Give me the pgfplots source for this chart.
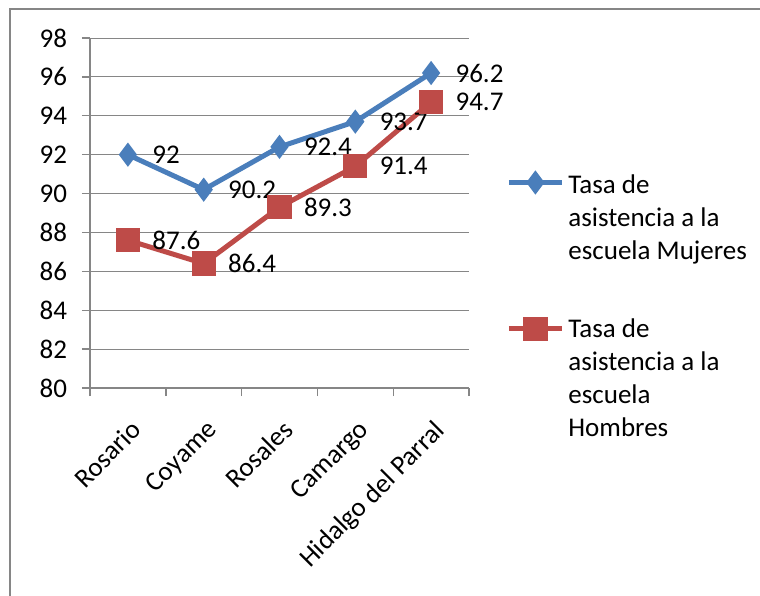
\documentclass[border=0pt]{standalone}
\usepackage{fontspec}
\setmainfont{Carlito}
\usepackage{pgfplots}
\pgfplotsset{compat=1.18}
\definecolor{serblue}{HTML}{4A7EBB}
\definecolor{serred}{HTML}{BE4B48}
\definecolor{axgray}{HTML}{868686}
\newcommand{\cf}{\fontsize{13.5}{16.5}\selectfont}
\begin{document}
\begin{tikzpicture}
\useasboundingbox (-45pt,-103.5pt) rectangle (335pt,194pt);
% outer chart frame (only top and left edges are visible)
\draw[axgray, line width=1pt] (-40pt,-104pt) -- (-40pt,189.5pt) -- (336pt,189.5pt);
\begin{axis}[
    scale only axis,
    width=189.5pt, height=175pt,
    xmin=-0.5, xmax=4.5,
    ymin=80, ymax=98,
    ytick={80,82,...,98},
    xtick={-0.5,0.5,...,4.5},
    xticklabels={},
    extra x ticks={0,1,2,3,4},
    extra x tick labels={Rosario,Coyame,Rosales,Camargo,Hidalgo del Parral},
    extra x tick style={major tick length=0pt,
        xticklabel style={yshift=-15pt, xshift=1pt, rotate=45, anchor=north east, inner sep=0pt}},
    ymajorgrids,
    grid style={axgray, line width=0.5pt},
    axis x line*=bottom, axis y line*=left,
    axis line style={axgray, line width=0.7pt, -},
    tick style={axgray, line width=0.7pt},
    tick align=outside,
    major tick length=4pt,
    tick label style={font=\cf, text=black},
    yticklabel style={xshift=-4pt},
    /pgf/number format/assume math mode=true,
    /pgf/number format/.cd, fixed, precision=1, /pgfplots/.cd,
    nodes near coords,
    every node near coord/.append style={anchor=west, xshift=10pt, font=\cf, text=black, inner sep=1pt},
    legend style={draw=none, fill=none, font=\cf,
        at={(axis cs:4.5,91.2)}, anchor=north west, xshift=15.5pt, yshift=2pt,
        cells={align=left, anchor=west, inner xsep=2pt}, row sep=24pt},
]
\addplot[serblue, line width=2.5pt, mark=diamond*, mark size=4pt, mark options={solid},
    legend image code/.code={
        \draw[mark repeat=2, mark phase=2, yshift=18pt] plot coordinates {(0pt,0pt) (13.25pt,0pt) (26.5pt,0pt)};}]
    coordinates {(0,92) (1,90.2) (2,92.4) (3,93.7) (4,96.2)};
\addlegendentry{Tasa de\\asistencia a la\\escuela Mujeres}
\addplot[serred, line width=2.5pt, mark=square*, mark size=4.8pt, mark options={solid},
    legend image code/.code={
        \draw[mark repeat=2, mark phase=2, yshift=25pt] plot coordinates {(0pt,0pt) (13.25pt,0pt) (26.5pt,0pt)};}]
    coordinates {(0,87.6) (1,86.4) (2,89.3) (3,91.4) (4,94.7)};
\addlegendentry{Tasa de\\asistencia a la\\escuela\\Hombres}
\end{axis}
\end{tikzpicture}
\end{document}
